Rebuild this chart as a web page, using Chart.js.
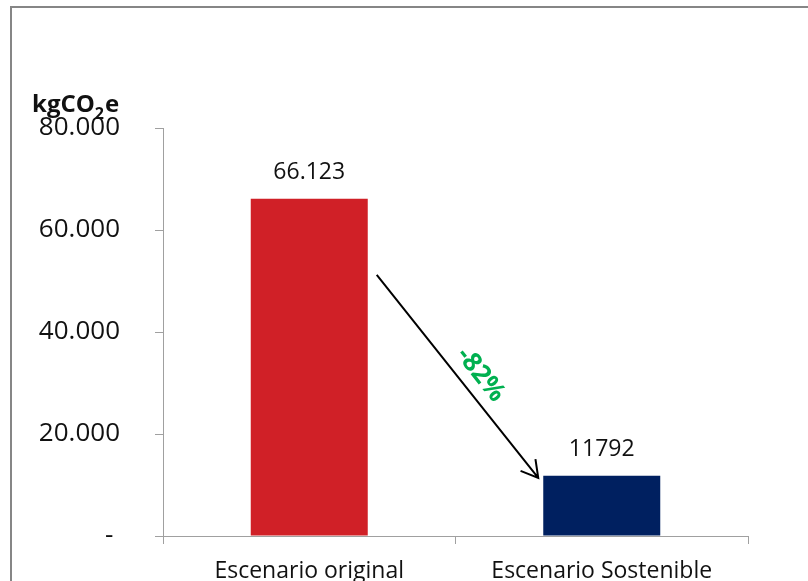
<!DOCTYPE html>
<html>
<head>
<meta charset="utf-8">
<title>Emisiones kgCO2e</title>
<script src="https://cdn.jsdelivr.net/npm/chart.js@4.4.1/dist/chart.umd.min.js"></script>
<style>
  html, body { margin: 0; padding: 0; background: #fff; }
  #wrap { position: relative; width: 808px; height: 581px; overflow: hidden; }
  canvas { display: block; }
</style>
</head>
<body>
<div id="wrap"><canvas id="emisiones" width="808" height="581"></canvas></div>
<script>
// datos
const escenarios = ['Escenario original', 'Escenario Sostenible'];
const emisiones = [66123, 11792];
const etiquetasValor = ['66.123', '11792'];
const ticksY = ['- ', '20.000', '40.000', '60.000', '80.000'];
const reduccion = '-82%';
const colores = ['#d02027', '#002060'];

const FONT = '"Open Sans", "Liberation Sans", sans-serif';
const GRIS = '#a0a0a0';

// marco, titulo del eje, etiquetas de valor y flecha de reduccion
const extras = {
    id: 'extras',
    beforeDraw(chart) {
        const c = chart.ctx;
        c.save();
        c.fillStyle = '#fff';
        c.fillRect(0, 0, chart.width, chart.height);
        c.strokeStyle = '#868686';
        c.lineWidth = 2;
        c.beginPath();
        c.moveTo(11, chart.height);
        c.lineTo(11, 7);
        c.lineTo(chart.width, 7);
        c.stroke();
        c.restore();
    },
    afterDatasetsDraw(chart) {
        const c = chart.ctx;
        const y = chart.scales.y;
        const barras = chart.getDatasetMeta(0).data;

        c.save();
        // valores encima de las barras
        c.fillStyle = '#111';
        c.font = '23px ' + FONT;
        c.textAlign = 'center';
        c.textBaseline = 'alphabetic';
        barras.forEach(function(b, i) {
            c.fillText(etiquetasValor[i], b.x, b.y - 20);
        });

        // titulo del eje Y: kgCO2e
        c.textAlign = 'left';
        let x = 32;
        c.font = 'bold 24px ' + FONT;
        c.fillText('kgCO', x, 112);
        x += c.measureText('kgCO').width;
        c.font = 'bold 16px ' + FONT;
        c.fillText('2', x, 119);
        x += c.measureText('2').width + 1;
        c.font = 'bold 24px ' + FONT;
        c.fillText('e', x, 112);

        // flecha entre las dos barras
        const b0 = barras[0], b1 = barras[1];
        const x0 = b0.x + b0.width / 2 + 9, y0 = y.getPixelForValue(51200);
        const x1 = b1.x - b1.width / 2 - 5, y1 = b1.y + 2;
        const ang = Math.atan2(y1 - y0, x1 - x0);
        c.strokeStyle = '#000';
        c.lineWidth = 2;
        c.beginPath();
        c.moveTo(x0, y0);
        c.lineTo(x1, y1);
        const punta = 19, abre = Math.PI / 6;
        c.moveTo(x1 - punta * Math.cos(ang - abre), y1 - punta * Math.sin(ang - abre));
        c.lineTo(x1, y1);
        c.lineTo(x1 - punta * Math.cos(ang + abre), y1 - punta * Math.sin(ang + abre));
        c.stroke();

        // porcentaje de reduccion, girado sobre la flecha
        const ux = Math.cos(ang), uy = Math.sin(ang);
        const mx = (x0 + x1) / 2 + ux * 13 + uy * 19;
        const my = (y0 + y1) / 2 + uy * 13 - ux * 19;
        c.translate(mx, my);
        c.rotate(ang);
        c.fillStyle = '#00b050';
        c.font = 'bold 26px ' + FONT;
        c.textAlign = 'center';
        c.textBaseline = 'middle';
        c.fillText(reduccion, 0, 0);
        c.restore();
    }
};

const ctx = document.getElementById('emisiones').getContext('2d');

new Chart(ctx, {
    type: 'bar',
    data: {
        labels: escenarios,
        datasets: [{
            data: emisiones,
            backgroundColor: colores,
            barPercentage: 0.4,
            categoryPercentage: 1
        }]
    },
    options: {
        responsive: false,
        animation: false,
        devicePixelRatio: 1,
        layout: { padding: { top: 128, right: 60, left: 0, bottom: 0 } },
        plugins: {
            legend: { display: false },
            tooltip: { enabled: false }
        },
        scales: {
            x: {
                grid: { drawOnChartArea: false, tickLength: 8, color: GRIS, offset: true },
                border: { color: GRIS },
                ticks: {
                    font: { family: FONT, size: 23 },
                    color: '#111',
                    padding: 14,
                    maxRotation: 0,
                    autoSkip: false
                },
                afterFit: function(s) { s.height = 45; }
            },
            y: {
                min: 0,
                max: 80000,
                ticks: {
                    stepSize: 20000,
                    callback: function(v, i) { return ticksY[i]; },
                    font: { family: FONT, size: 26 },
                    color: '#111',
                    padding: 35
                },
                grid: { drawOnChartArea: false, tickLength: 8, color: GRIS },
                border: { color: GRIS },
                afterFit: function(s) {
                    // el padding de las etiquetas no debe recortar el area del grafico
                    s.width = 163;
                    s.paddingTop = 0;
                    s.paddingBottom = 0;
                }
            }
        }
    },
    plugins: [extras]
});
</script>
</body>
</html>
